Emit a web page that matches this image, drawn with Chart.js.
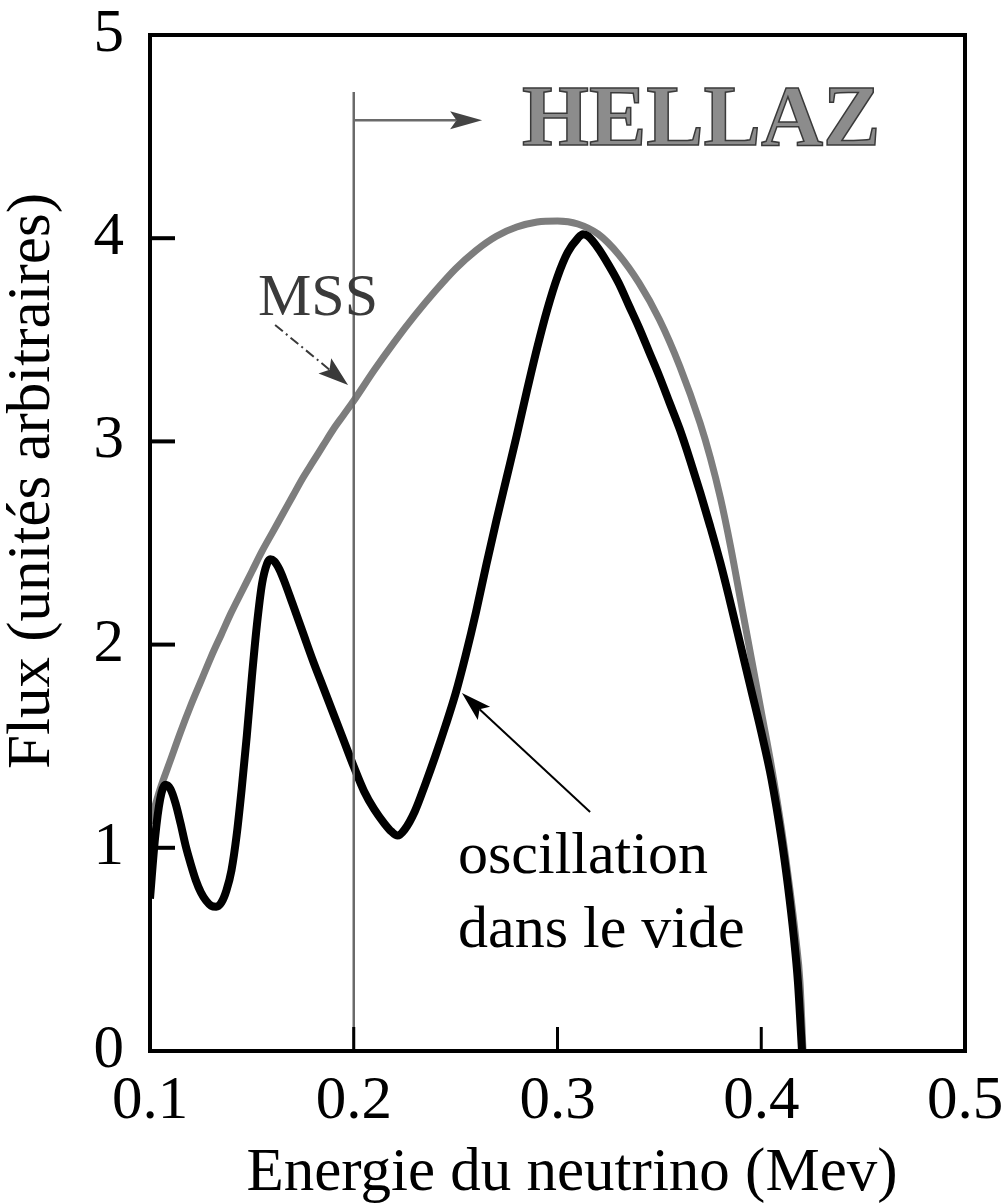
<!DOCTYPE html>
<html>
<head>
<meta charset="utf-8">
<script src="https://cdn.jsdelivr.net/npm/chart.js@4.4.1/dist/chart.umd.min.js"></script>
<style>
  html, body { margin:0; padding:0; background:#fff; }
  #c { display:block; }
</style>
</head>
<body>
<canvas id="c" width="1006" height="1203"></canvas>
<script>
// values (energy in MeV, flux in arbitrary units)
const energyOsc = [0.100, 0.1025, 0.105, 0.1075, 0.110, 0.1125, 0.115, 0.1175, 0.120, 0.1225, 0.125, 0.1275, 0.130, 0.1325,
  0.135, 0.1375, 0.140, 0.1425, 0.145, 0.1475, 0.150, 0.1525, 0.155, 0.1575, 0.159, 0.161, 0.1635, 0.166, 0.170, 0.175,
  0.180, 0.185, 0.190, 0.195, 0.200, 0.205, 0.210, 0.215, 0.2185, 0.2215, 0.225, 0.230, 0.235, 0.240, 0.245, 0.250,
  0.255, 0.260, 0.265, 0.270, 0.275, 0.280, 0.285, 0.290, 0.295, 0.300, 0.305, 0.310, 0.3125, 0.315, 0.320, 0.325,
  0.330, 0.335, 0.340, 0.345, 0.350, 0.355, 0.360, 0.365, 0.370, 0.375, 0.380, 0.385, 0.390, 0.395, 0.400, 0.405,
  0.410, 0.413, 0.416, 0.418, 0.420];
const fluxOsc = [0.75, 1.05, 1.24, 1.31, 1.29, 1.22, 1.12, 1.01, 0.92, 0.84, 0.78, 0.74, 0.715, 0.71,
  0.73, 0.79, 0.89, 1.06, 1.29, 1.55, 1.84, 2.10, 2.30, 2.40, 2.42, 2.41, 2.37, 2.31, 2.20, 2.06,
  1.92, 1.79, 1.66, 1.53, 1.40, 1.28, 1.19, 1.12, 1.08, 1.06, 1.09, 1.18, 1.31, 1.45, 1.60, 1.76,
  1.95, 2.16, 2.39, 2.61, 2.82, 3.03, 3.25, 3.46, 3.65, 3.81, 3.93, 4.00, 4.02, 4.01, 3.95, 3.87,
  3.78, 3.67, 3.56, 3.44, 3.32, 3.19, 3.06, 2.91, 2.75, 2.58, 2.40, 2.20, 1.99, 1.78, 1.57, 1.34,
  1.04, 0.82, 0.56, 0.34, 0.0];

const energyMSS = [0.100, 0.105, 0.110, 0.115, 0.120, 0.125, 0.130, 0.135, 0.140, 0.145, 0.150, 0.155, 0.160, 0.165,
  0.170, 0.175, 0.180, 0.185, 0.190, 0.195, 0.200, 0.210, 0.220, 0.230, 0.240, 0.250, 0.260, 0.270, 0.280, 0.290,
  0.300, 0.310, 0.320, 0.330, 0.340, 0.350, 0.360, 0.370, 0.375, 0.380, 0.385, 0.390, 0.395, 0.400, 0.405, 0.410,
  0.414, 0.417, 0.419, 0.4205];
const fluxMSS = [1.12, 1.29, 1.43, 1.57, 1.70, 1.82, 1.94, 2.05, 2.16, 2.26, 2.36, 2.46, 2.55, 2.64,
  2.73, 2.82, 2.90, 2.98, 3.06, 3.13, 3.20, 3.35, 3.49, 3.62, 3.74, 3.85, 3.94, 4.01, 4.055, 4.08,
  4.085, 4.07, 4.02, 3.92, 3.78, 3.60, 3.37, 3.09, 2.92, 2.72, 2.48, 2.21, 1.94, 1.67, 1.40, 1.09,
  0.80, 0.55, 0.34, 0.0];

const xTicks = [0.1, 0.2, 0.3, 0.4, 0.5];
const yTicks = [0, 1, 2, 3, 4, 5];

const xTitle = 'Energie du neutrino (Mev)';
const yTitle = 'Flux (unités arbitraires)';

// annotation anchors (data units)
const hellazCut = 0.2, hellazTop = 4.72, hellazArrowY = 4.58, hellazArrowEnd = 0.263;
const mssArrow = [[0.1614, 3.573], [0.1972, 3.278]];
const oscArrow = [[0.316, 1.176], [0.2531, 1.762]];

const SERIF = '"Liberation Serif", "Times New Roman", serif';
const toPts = (xs, ys) => xs.map((x, i) => ({ x, y: ys[i] }));

// shaft from (x0,y0) to the base of a filled head whose tip is (x1,y1)
function arrow(ctx, x0, y0, x1, y1, len, half, dash){
  const a = Math.atan2(y1 - y0, x1 - x0), c = Math.cos(a), s = Math.sin(a);
  ctx.setLineDash(dash || []);
  ctx.beginPath(); ctx.moveTo(x0, y0); ctx.lineTo(x1 - len*c*0.8, y1 - len*s*0.8); ctx.stroke();
  ctx.setLineDash([]);
  ctx.beginPath();
  ctx.moveTo(x1, y1);
  ctx.lineTo(x1 - len*c + half*s, y1 - len*s - half*c);
  ctx.lineTo(x1 - len*c*0.8, y1 - len*s*0.8);
  ctx.lineTo(x1 - len*c - half*s, y1 - len*s + half*c);
  ctx.closePath();
  ctx.fill();
}

const decor = {
  id: 'decor',
  afterDraw(chart){
    const { ctx, chartArea: a, scales: { x, y } } = chart;
    const P = (p) => [x.getPixelForValue(p[0]), y.getPixelForValue(p[1])];
    ctx.save();

    // HELLAZ threshold line + arrow
    const xc = x.getPixelForValue(hellazCut);
    ctx.strokeStyle = '#6a6a6a'; ctx.lineWidth = 2.5;
    ctx.beginPath(); ctx.moveTo(xc, a.bottom); ctx.lineTo(xc, y.getPixelForValue(hellazTop)); ctx.stroke();
    const ya = y.getPixelForValue(hellazArrowY), xe = x.getPixelForValue(hellazArrowEnd);
    ctx.fillStyle = '#444';
    arrow(ctx, xc, ya, xe, ya, 32, 9);

    ctx.font = 'bold 86px ' + SERIF;
    ctx.textAlign = 'left'; ctx.textBaseline = 'alphabetic';
    ctx.fillStyle = '#8c8c8c'; ctx.fillText('HELLAZ', 522, 145);
    ctx.strokeStyle = '#3a3a3a'; ctx.lineWidth = 1.5; ctx.strokeText('HELLAZ', 522, 145);

    // MSS label + dash-dot arrow
    ctx.font = '60px ' + SERIF;
    ctx.fillStyle = '#3a3a3a';
    ctx.fillText('MSS', 258, 315);
    const m0 = P(mssArrow[0]), m1 = P(mssArrow[1]);
    ctx.strokeStyle = '#3a3a3a'; ctx.lineWidth = 2;
    arrow(ctx, m0[0], m0[1], m1[0], m1[1], 30, 10, [10, 4, 2, 4]);

    // oscillation label + arrow
    ctx.fillStyle = '#000';
    ctx.fillText('oscillation', 458, 873);
    ctx.fillText('dans le vide', 458, 947);
    const o0 = P(oscArrow[0]), o1 = P(oscArrow[1]);
    ctx.strokeStyle = '#000'; ctx.lineWidth = 2;
    arrow(ctx, o0[0], o0[1], o1[0], o1[1], 30, 9);

    // frame and inward ticks
    ctx.strokeStyle = '#000'; ctx.lineWidth = 4;
    ctx.strokeRect(a.left, a.top, a.right - a.left, a.bottom - a.top);
    yTicks.forEach(v => {
      const py = y.getPixelForValue(v);
      ctx.beginPath(); ctx.moveTo(a.left, py); ctx.lineTo(a.left + 25, py); ctx.stroke();
    });
    ctx.lineWidth = 3;
    xTicks.forEach(v => {
      const px = x.getPixelForValue(v);
      ctx.beginPath(); ctx.moveTo(px, a.bottom); ctx.lineTo(px, a.bottom - 24); ctx.stroke();
    });

    // axis titles
    ctx.fillStyle = '#000';
    ctx.font = '61px ' + SERIF;
    ctx.textAlign = 'center';
    ctx.fillText(xTitle, 572, 1190);
    ctx.translate(49, 481);
    ctx.rotate(-Math.PI / 2);
    ctx.fillText(yTitle, 0, 0);
    ctx.restore();
  }
};

new Chart(document.getElementById('c'), {
  type: 'line',
  data: {
    datasets: [
      { label: 'oscillation dans le vide', data: toPts(energyOsc, fluxOsc), borderColor: '#000', borderWidth: 8,
        pointRadius: 0, cubicInterpolationMode: 'monotone', borderJoinStyle: 'round', fill: false },
      { label: 'MSS', data: toPts(energyMSS, fluxMSS), borderColor: '#7d7d7d', borderWidth: 7,
        pointRadius: 0, cubicInterpolationMode: 'monotone', borderJoinStyle: 'round', fill: false }
    ]
  },
  options: {
    responsive: false,
    animation: false,
    events: [],
    layout: { padding: { left: 0, right: 41, top: 35, bottom: 0 } },
    plugins: { legend: { display: false }, tooltip: { enabled: false } },
    scales: {
      x: {
        type: 'linear', min: 0.1, max: 0.5,
        afterFit: s => { s.height = 152; s.paddingLeft = 0; s.paddingRight = 0; },
        afterBuildTicks: s => { s.ticks = xTicks.map(v => ({ value: v })); },
        grid: { display: false, drawTicks: false },
        border: { display: false },
        ticks: { padding: 20, color: '#000', font: { family: SERIF, size: 61, lineHeight: 1 },
                 maxRotation: 0, autoSkip: false, callback: v => v.toFixed(1) }
      },
      y: {
        type: 'linear', min: 0, max: 5,
        afterFit: s => { s.width = 150; s.paddingTop = 0; s.paddingBottom = 0; },
        afterBuildTicks: s => { s.ticks = yTicks.map(v => ({ value: v })); },
        grid: { display: false, drawTicks: false },
        border: { display: false },
        ticks: { padding: 26, color: '#000', font: { family: SERIF, size: 61, lineHeight: 1 },
                 autoSkip: false, callback: v => String(v) }
      }
    }
  },
  plugins: [decor]
});
</script>
</body>
</html>
